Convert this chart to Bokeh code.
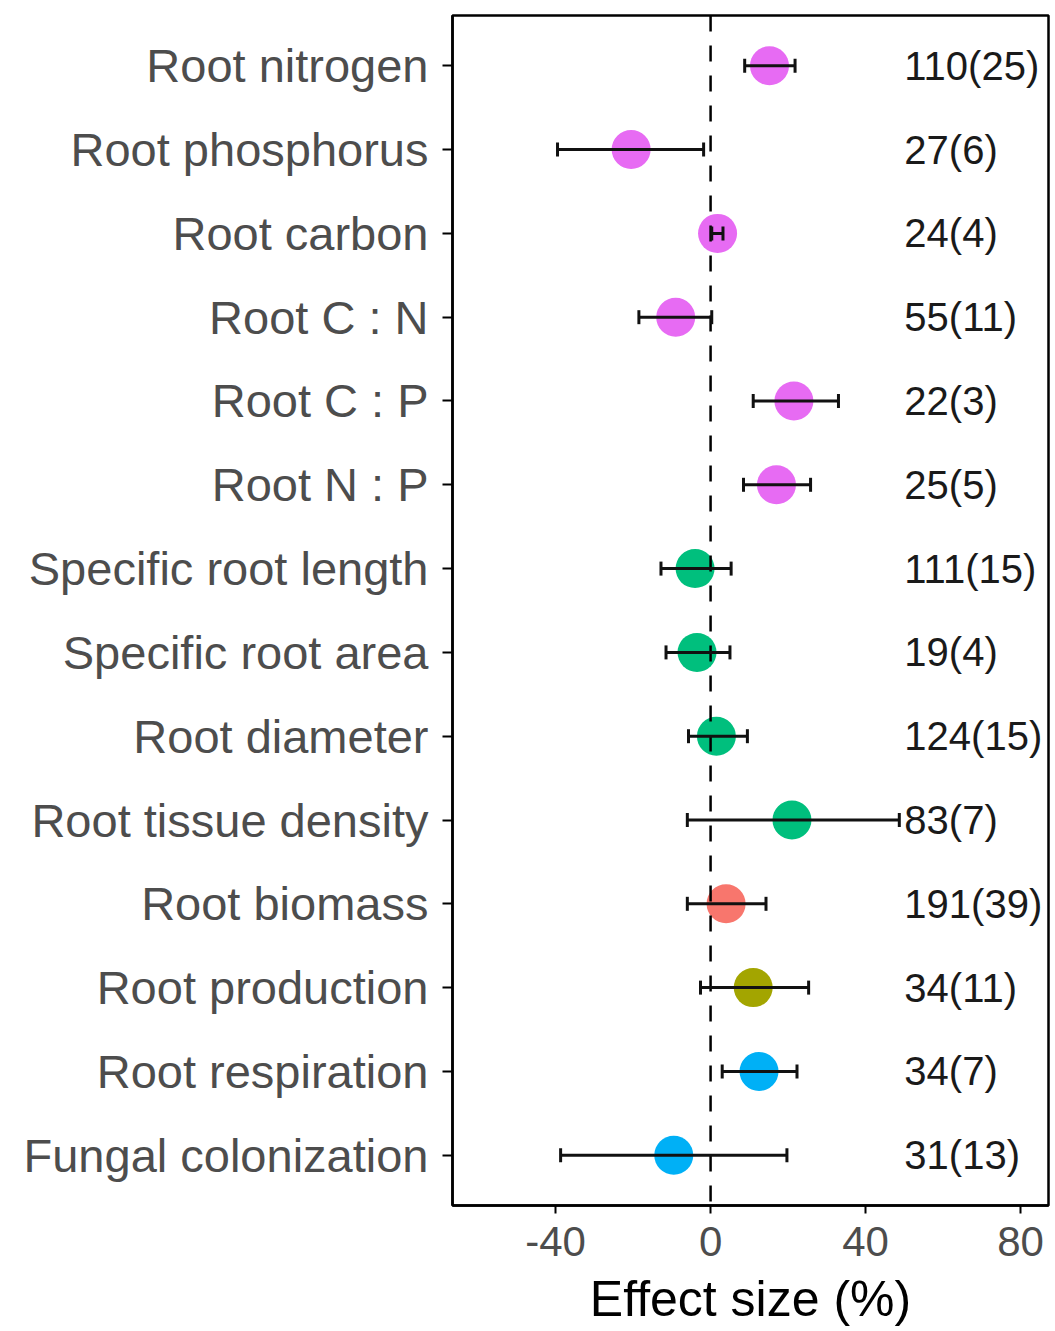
from bokeh.plotting import figure
from bokeh.models import ColumnDataSource, Whisker, Span, FixedTicker, Range1d, TeeHead
from bokeh.core.properties import value
from bokeh.embed import file_html
from bokeh.resources import INLINE

categories = ["Root nitrogen", "Root phosphorus", "Root carbon", "Root C : N",
              "Root C : P", "Root N : P", "Specific root length", "Specific root area",
              "Root diameter", "Root tissue density", "Root biomass", "Root production",
              "Root respiration", "Fungal colonization"]
means = [15.2, -20.5, 1.8, -9.0, 21.5, 17.0, -4.0, -3.5, 1.5, 21.0, 4.0, 11.0, 12.5, -9.5]
lower = [8.8, -39.5, 0.3, -18.5, 11.0, 8.5, -12.8, -11.5, -5.7, -6.0, -6.0, -2.6, 3.0, -38.7]
upper = [21.8, -1.8, 3.2, 0.3, 33.0, 25.8, 5.3, 5.0, 9.5, 48.7, 14.3, 25.3, 22.3, 19.7]
counts = ["110(25)", "27(6)", "24(4)", "55(11)", "22(3)", "25(5)", "111(15)", "19(4)",
          "124(15)", "83(7)", "191(39)", "34(11)", "34(7)", "31(13)"]
groups = ["Chemistry"] * 6 + ["Morphology"] * 4 + ["Biomass", "Production", "Respiration", "Fungi"]
group_colors = {"Chemistry": "#E76BF3", "Morphology": "#00BF7D", "Biomass": "#F8766D",
                "Production": "#A3A500", "Respiration": "#00B0F6", "Fungi": "#00B0F6"}
x_ticks = [-40, 0, 40, 80]
x_tick_labels = ["-40", "0", "40", "80"]
label_x = 50
x_title = "Effect size (%)"

n = len(categories)
ypos = [n - i for i in range(n)]
x_lo, x_hi = -66.6, 87.2
y_lo, y_hi = 0.4, n + 0.6

src = ColumnDataSource(dict(
    y=ypos, mean=means, lo=lower, hi=upper, cnt=counts,
    color=[group_colors[g] for g in groups],
    lx=[label_x] * n,
))

p = figure(width=1052, height=1330, output_backend="svg", toolbar_location=None,
           x_range=Range1d(x_lo, x_hi), y_range=Range1d(y_lo, y_hi),
           min_border_left=452, min_border_right=4, min_border_top=15, min_border_bottom=125)
p.background_fill_color = "white"
p.border_fill_color = "white"
p.outline_line_color = "black"
p.outline_line_width = 2.5
p.xgrid.visible = False
p.ygrid.visible = False

p.scatter(x="mean", y="y", size=39, fill_color="color", line_color=None, source=src)

w = Whisker(source=src, base="y", lower="lo", upper="hi", dimension="width",
            line_color="#111111", line_width=3, level="overlay",
            lower_head=TeeHead(size=14, line_color="#111111", line_width=3),
            upper_head=TeeHead(size=14, line_color="#111111", line_width=3))
p.add_layout(w)

vline = Span(location=0, dimension="height", line_color="black", line_width=2.5,
             line_dash="16 14")
p.add_layout(vline)

p.text(x="lx", y="y", text="cnt", source=src, text_align="left", text_baseline="middle",
       text_font_size="40px", text_color="#1a1a1a", text_font=value("Liberation Sans"))

# y axis
p.yaxis.ticker = FixedTicker(ticks=ypos)
p.yaxis.major_label_overrides = {y: c for y, c in zip(ypos, categories)}
p.yaxis.major_label_text_font = "Liberation Sans"
p.yaxis.major_label_text_font_size = "47px"
p.yaxis.major_label_text_color = "#4D4D4D"
p.yaxis.major_tick_out = 10
p.yaxis.major_tick_in = 0
p.yaxis.minor_tick_line_color = None
p.yaxis.major_tick_line_width = 2
p.yaxis.axis_line_width = 2.5
p.yaxis.major_label_standoff = 14

# x axis
p.xaxis.ticker = FixedTicker(ticks=x_ticks)
p.xaxis.major_label_overrides = {t: s for t, s in zip(x_ticks, x_tick_labels)}
p.xaxis.major_label_text_font = "Liberation Sans"
p.xaxis.major_label_text_font_size = "42px"
p.xaxis.major_label_text_color = "#4D4D4D"
p.xaxis.major_tick_out = 8
p.xaxis.major_tick_in = 0
p.xaxis.minor_tick_line_color = None
p.xaxis.major_tick_line_width = 2
p.xaxis.axis_line_width = 2.5
p.xaxis.major_label_standoff = 13
p.xaxis.axis_label = x_title
p.xaxis.axis_label_text_font = "Liberation Sans"
p.xaxis.axis_label_text_font_size = "50px"
p.xaxis.axis_label_text_font_style = "normal"
p.xaxis.axis_label_text_color = "black"
p.xaxis.axis_label_standoff = 12

open("out.html", "w").write(file_html(p, INLINE))
